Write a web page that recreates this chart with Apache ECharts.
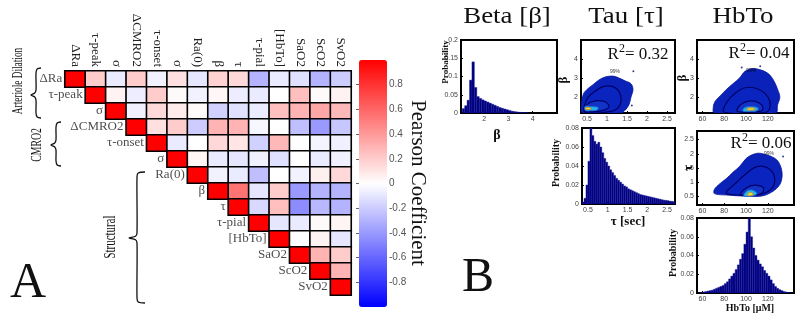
<!DOCTYPE html>
<html><head><meta charset="utf-8">
<script src="https://cdn.jsdelivr.net/npm/echarts@6/dist/echarts.min.js"></script>
<style>html,body{margin:0;padding:0;background:#fff}#c{width:800px;height:318px}</style>
</head><body><div id="c"></div>
<script>
// ---------- Panel A data ----------
const varNames = ['ΔRa','τ-peak','σ','ΔCMRO2','τ-onset','σ','Ra(0)','β','τ','τ-pial','[HbTo]','SaO2','ScO2','SvO2'];
// upper triangle (row r, columns r..13)
const corrUpper = [
 [1, 0.2, -0.08, 0.2, -0.05, 0.12, -0.1, 0.18, 0.15, -0.3, -0.08, -0.12, -0.3, -0.2],
 [1, 0.05, -0.07, 0.2, 0.02, -0.05, 0.03, -0.07, -0.08, 0.0, 0.25, 0.02, 0.05],
 [1, -0.06, 0.15, 0.08, 0.02, -0.18, -0.12, -0.08, 0.25, 0.3, 0.35, 0.28],
 [1, 0.12, 0.2, -0.2, 0.3, 0.3, -0.03, 0.0, -0.25, -0.4, -0.22],
 [1, -0.08, 0.0, 0.15, 0.1, -0.18, 0.28, 0.0, -0.04, -0.06],
 [1, 0.04, -0.08, -0.1, -0.06, -0.12, 0.0, -0.08, -0.06],
 [1, -0.05, -0.08, -0.25, 0.0, -0.05, 0.06, 0.15],
 [1, 0.55, -0.1, 0.2, -0.4, -0.3, -0.3],
 [1, -0.15, 0.25, -0.45, -0.28, -0.3],
 [1, -0.1, -0.08, 0.02, 0.04],
 [1, 0.0, 0.05, -0.1],
 [1, 0.3, 0.2],
 [1, 0.3],
 [1]
];
const colorbarTicks = [-0.8,-0.6,-0.4,-0.2,0,0.2,0.4,0.6,0.8];

// ---------- Panel B data ----------
const betaBins = [1.1,1.2,1.3,1.4,1.5,1.6,1.7,1.8,1.9,2.0,2.1,2.2,2.3,2.4,2.5,2.6,2.7,2.8,2.9,3.0,3.1,3.2,3.3,3.4,3.5,3.6,3.7];
const betaProb = [0.012,0.02,0.035,0.09,0.14,0.07,0.045,0.04,0.036,0.033,0.03,0.027,0.024,0.021,0.018,0.015,0.013,0.011,0.009,0.007,0.005,0.004,0.003,0.002,0.0015,0.001,0.0005];
const tauBins = [0.35,0.40,0.45,0.50,0.55,0.60,0.65,0.70,0.75,0.80,0.85,0.90,0.95,1.00,1.05,1.10,1.15,1.20,1.25,1.30,1.35,1.40,1.45,1.50,1.55,1.60,1.65,1.70,1.75,1.80,1.85,1.90,1.95,2.00,2.05,2.10,2.15,2.20,2.25,2.30,2.35,2.40,2.45,2.50,2.55,2.60,2.65];
const tauProb = [0.002,0.006,0.02,0.045,0.08,0.072,0.066,0.063,0.065,0.06,0.054,0.048,0.044,0.04,0.036,0.033,0.03,0.027,0.025,0.023,0.021,0.019,0.018,0.016,0.015,0.014,0.013,0.012,0.011,0.01,0.0095,0.009,0.0085,0.008,0.0075,0.007,0.0065,0.006,0.0055,0.005,0.0045,0.004,0.0038,0.0035,0.003,0.0028,0.0025];
const hbtoBins = [58,60,62,64,66,68,70,72,74,76,78,80,82,84,86,88,90,92,94,96,98,100,102,104,106,108,110,112,114,116,118,120,122,124,126,128,130,132,134,136,138];
const hbtoProb = [0.0005,0.001,0.0015,0.002,0.0025,0.003,0.004,0.005,0.006,0.007,0.008,0.01,0.012,0.015,0.018,0.021,0.025,0.03,0.036,0.042,0.052,0.065,0.08,0.06,0.048,0.04,0.035,0.031,0.028,0.024,0.021,0.018,0.014,0.01,0.007,0.005,0.0035,0.0025,0.0015,0.001,0.0005];

// density contour outlines (x, y) for the scatter panels
const tauBetaOuter = [[0.4,1.15],[0.4,2.1],[0.5,2.4],[0.65,2.65],[0.8,2.9],[0.95,3.05],[1.15,3.1],[1.3,3.0],[1.45,2.85],[1.6,2.7],[1.65,2.4],[1.6,2.0],[1.55,1.6],[1.45,1.3],[1.35,1.15]];
const tauBetaMid = [[0.45,1.2],[0.5,1.9],[0.7,2.3],[0.9,2.55],[1.15,2.55],[1.3,2.3],[1.35,1.9],[1.3,1.5],[1.1,1.25]];
const tauBetaInner = [[0.45,1.25],[0.5,1.6],[0.7,1.8],[0.95,1.75],[1.05,1.5],[0.9,1.3],[0.6,1.22]];
const tauBetaCyan = [[0.45,1.3],[0.45,1.5],[0.6,1.5],[0.78,1.45],[0.75,1.32],[0.55,1.28]];
const tauBetaCore = [[0.47,1.35],[0.48,1.45],[0.58,1.44],[0.6,1.36]];
const hbBetaOuter = [[71,1.15],[70,1.5],[72,1.8],[77,2.1],[82,2.4],[88,2.7],[94,3.0],[99,3.35],[106,3.5],[112,3.45],[117,3.35],[122,3.15],[126,2.8],[129,2.4],[131,2.0],[129,1.6],[127,1.15]];
const hbBetaMid = [[80,1.2],[82,1.7],[90,2.2],[100,2.5],[112,2.4],[120,2.0],[122,1.5],[118,1.2]];
const hbBetaInner = [[92,1.25],[95,1.6],[105,1.8],[114,1.6],[115,1.3],[105,1.2]];
const hbBetaCyan = [[97,1.28],[99,1.45],[106,1.5],[111,1.42],[110,1.28],[103,1.24]];
const hbBetaCore = [[101,1.32],[102,1.42],[107,1.42],[108,1.33]];
const hbTauOuter = [[71,0.6],[71,0.75],[76,0.95],[82,1.13],[88,1.35],[94,1.55],[100,1.83],[106,1.97],[112,2.02],[120,1.95],[126,1.85],[130,1.7],[133,1.35],[132,1.0],[128,0.78],[122,0.62],[115,0.52],[104,0.5],[94,0.52],[82,0.55]];
const hbTauMid = [[82,0.62],[90,0.95],[100,1.3],[110,1.55],[120,1.5],[126,1.2],[124,0.8],[115,0.6],[100,0.55]];
const hbTauInner = [[95,0.57],[100,0.8],[108,0.9],[116,0.8],[114,0.6],[105,0.55]];
const hbTauCyan = [[98,0.52],[101,0.7],[106,0.72],[110,0.6],[106,0.52]];
const hbTauCore = [[101,0.54],[103,0.64],[106,0.62],[106,0.54]];
const label99 = [[1.2,3.32],[104.7,3.38],[121,2.0]];
const strayDots = [[[1.66,3.35],[1.62,1.55]],[[96,3.55],[113,3.62]],[[134,1.9]]];
const r2Values = ['0.32','0.04','0.06'];

// ---------- build option ----------
const serif = '"Liberation Serif","Times New Roman",serif';
const sans = '"Liberation Sans",Arial,sans-serif';
const heatData = [];
corrUpper.forEach((row, r) => row.forEach((v, j) => heatData.push([r + j, r, v])));

function bAxis(grid, min, max, extra) {
  return Object.assign({
    type: 'value', gridIndex: grid, min, max,
    axisLine: {show: false}, splitLine: {show: false},
    axisTick: {show: true, inside: true, length: 2, lineStyle: {color: '#000'}},
    axisLabel: {fontSize: 7, color: '#444', fontFamily: sans, margin: 3}
  }, extra || {});
}
function custVals(v) {
  return {axisLabel: {fontSize: 7, color: '#444', fontFamily: sans, margin: 3, customValues: v},
          axisTick: {show: true, inside: true, length: 2, lineStyle: {color: '#000'}, customValues: v}};
}
function histSeries(ax, bins, probs, w) {
  return {type: 'custom', xAxisIndex: ax, yAxisIndex: ax, clip: true, silent: true,
    data: bins.map((b, i) => [b, probs[i]]),
    renderItem: (params, api) => {
      const x0 = api.value(0), p = api.value(1);
      const a = api.coord([x0, p]), b = api.coord([x0 + w, 0]);
      return {type: 'rect', shape: {x: a[0], y: a[1], width: b[0] - a[0], height: b[1] - a[1]},
        style: {fill: '#00007f', stroke: '#1a1a9c', lineWidth: 0.4}};
    }};
}
function polySeries(ax, pts, fill, stroke, lw) {
  return {type: 'custom', xAxisIndex: ax, yAxisIndex: ax, clip: true, silent: true, data: pts,
    renderItem: (params, api) => {
      if (params.dataIndex !== 0) return null;
      const points = pts.map(p => api.coord(p));
      return {type: 'polygon', shape: {points, smooth: 0.35}, style: {fill, stroke, lineWidth: lw}};
    }};
}
function contourSet(ax, outer, mid, inner, cyan, core) {
  return [
    polySeries(ax, outer, '#0b22b8', '#08189a', 0.8),
    polySeries(ax, mid, '#0a24bf', '#000066', 1.2),
    polySeries(ax, inner, '#1133c6', '#000066', 1.2),
    polySeries(ax, cyan, '#27b5e6', '#1a6fd8', 0.8),
    polySeries(ax, core, '#d9e23c', '#e07a20', 0.8)
  ];
}
const series = [
  {type: 'heatmap', xAxisIndex: 0, yAxisIndex: 0, data: heatData, silent: true,
   itemStyle: {borderColor: '#000', borderWidth: 1.6}, emphasis: {disabled: true}},
  {type: 'scatter', xAxisIndex: 0, yAxisIndex: 0, silent: true, symbolSize: 0,
   data: varNames.map((n, i) => [i, i]),
   label: {show: true, position: 'left', distance: 13, formatter: p => varNames[p.dataIndex],
           fontFamily: serif, fontSize: 13, color: '#222'}},
  {type: 'scatter', xAxisIndex: 1, yAxisIndex: 1, data: [], silent: true},
  histSeries(2, betaBins, betaProb, 0.1),
  histSeries(5, tauBins, tauProb, 0.05),
  histSeries(7, hbtoBins, hbtoProb, 2),
  ...contourSet(3, tauBetaOuter, tauBetaMid, tauBetaInner, tauBetaCyan, tauBetaCore),
  ...contourSet(4, hbBetaOuter, hbBetaMid, hbBetaInner, hbBetaCyan, hbBetaCore),
  ...contourSet(6, hbTauOuter, hbTauMid, hbTauInner, hbTauCyan, hbTauCore)
];
[3, 4, 6].forEach((ax, k) => {
  series.push({type: 'scatter', xAxisIndex: ax, yAxisIndex: ax, silent: true, symbolSize: 2,
    itemStyle: {color: '#001080'}, data: strayDots[k]});
  series.push({type: 'scatter', xAxisIndex: ax, yAxisIndex: ax, silent: true, symbolSize: 0,
    data: [label99[k]], label: {show: true, position: 'inside', formatter: '99%', fontSize: 5, color: '#000', fontFamily: sans}});
});

const grids = [
  {left: 65, top: 71, width: 286, height: 224},
  {left: 359, top: 60, width: 28, height: 247},
  {left: 461, top: 40, width: 96, height: 73},
  {left: 581, top: 40, width: 94, height: 73},
  {left: 697, top: 40, width: 97, height: 73},
  {left: 582, top: 128, width: 93, height: 76},
  {left: 697, top: 131, width: 97, height: 74},
  {left: 697, top: 218, width: 97, height: 75}
].map((g, i) => Object.assign(g, i >= 2 ? {show: true, borderColor: '#000', borderWidth: 2, backgroundColor: '#fff'} : {show: false}));

const xAxes = [
  {type: 'category', gridIndex: 0, data: varNames, position: 'top',
   axisLine: {show: false}, axisTick: {show: false}, splitLine: {show: false},
   axisLabel: {rotate: 90, interval: 0, fontFamily: serif, fontSize: 13, color: '#222', margin: 4}},
  {type: 'value', gridIndex: 1, show: false, min: 0, max: 1},
  bAxis(2, 1.05, 5, custVals([2, 3, 4])),
  bAxis(3, 0.35, 2.7, custVals([0.5, 1, 1.5, 2, 2.5])),
  bAxis(4, 55, 144, custVals([60, 80, 100, 120])),
  bAxis(5, 0.35, 2.7, custVals([0.5, 1, 1.5, 2, 2.5])),
  bAxis(6, 55, 144, custVals([60, 80, 100, 120])),
  bAxis(7, 55, 144, custVals([60, 80, 100, 120]))
];
const yAxes = [
  {type: 'category', gridIndex: 0, data: varNames, inverse: true, show: false},
  {type: 'value', gridIndex: 1, position: 'right', min: -1, max: 1,
   axisLine: {show: false}, splitLine: {show: false},
   axisTick: {show: true, inside: true, length: 3, lineStyle: {color: '#666'}, customValues: colorbarTicks},
   axisLabel: {fontSize: 10, color: '#555', fontFamily: sans, margin: 2, customValues: colorbarTicks}},
  bAxis(2, 0, 0.2, {interval: 0.05}),
  bAxis(3, 1.16, 5, custVals([2, 3, 4])),
  bAxis(4, 1.16, 5, custVals([2, 3, 4])),
  bAxis(5, 0, 0.08, {interval: 0.02}),
  bAxis(6, 0.2, 2.8, custVals([0.5, 1, 1.5, 2, 2.5])),
  bAxis(7, 0, 0.08, {interval: 0.02})
];

function txt(t, x, y, font, opts) {
  return Object.assign({type: 'text', x, y, silent: true, z: 100,
    style: {text: t, font, fill: '#111', textAlign: 'center', textVerticalAlign: 'middle'}}, opts || {});
}
function r2(v, x, y) {
  return {type: 'text', x, y, silent: true, z: 100,
    style: {text: '{r|R}{s|2}{r|= ' + v + '}', textAlign: 'center', textVerticalAlign: 'middle',
      rich: {r: {fontFamily: serif, fontSize: 17, fill: '#111', color: '#111', verticalAlign: 'bottom'},
             s: {fontFamily: serif, fontSize: 12, fill: '#111', color: '#111', verticalAlign: 'bottom', padding: [0, 0, 8, 0]}}}};
}
// curly brace: xEnd = open ends, xMid = spine, xTip = point, from yTop to yBot, tip at yTip
function brace(xEnd, xMid, xTip, yTop, yTip, yBot) {
  const c = 5;
  const pts = [[xEnd, yTop], [xMid + 1.2, yTop + 1], [xMid, yTop + c], [xMid, yTip - c], [xMid - 1.5, yTip - 1.8], [xTip, yTip],
               [xMid - 1.5, yTip + 1.8], [xMid, yTip + c], [xMid, yBot - c], [xMid + 1.2, yBot - 1], [xEnd, yBot]];
  return {type: 'polyline', silent: true, shape: {points: pts, smooth: 0.3}, style: {stroke: '#111', fill: null, lineWidth: 1.3}};
}
const R90 = Math.PI / 2;
const graphics = [
  brace(41, 36, 31, 68, 95, 118),
  brace(61, 56, 51, 122, 145, 166),
  brace(145, 137, 129, 172, 238, 303),
  txt('Arteriole Dilation', 18, 81, '15px ' + serif, {rotation: R90, scaleX: 0.62}),
  txt('CMRO2', 37, 145, '15px ' + serif, {rotation: R90, scaleX: 0.65}),
  txt('Structural', 111, 237, '16px ' + serif, {rotation: R90, scaleX: 0.68}),
  txt('A', 28, 284, '50px ' + serif),
  txt('B', 478, 278, '48px ' + serif),
  txt('Pearson Coefficient', 418, 183, '21px ' + serif, {rotation: -R90}),
  txt('Beta [β]', 507, 17, '24px ' + serif, {scaleX: 1.12}),
  txt('Tau [τ]', 626, 17, '24px ' + serif, {scaleX: 1.12}),
  txt('HbTo', 743, 17, '24px ' + serif, {scaleX: 1.12}),
  r2(r2Values[0], 638, 53),
  r2(r2Values[1], 759, 52),
  r2(r2Values[2], 761, 142),
  txt('Probability', 446, 62, 'bold 9px ' + serif, {rotation: R90}),
  txt('β', 497, 135, 'bold 14px ' + serif),
  txt('β', 564, 80, 'bold 13px ' + serif, {rotation: R90}),
  txt('Probability', 556, 163, 'bold 10px ' + serif, {rotation: R90}),
  txt('τ [sec]', 628, 222, 'bold 13px ' + serif),
  txt('β', 683, 78, 'bold 13px ' + serif, {rotation: R90}),
  txt('τ', 689, 168, 'bold 13px ' + serif, {rotation: R90}),
  txt('Probability', 673, 253, 'bold 10px ' + serif, {rotation: R90}),
  txt('HbTo [μM]', 750, 308, 'bold 10px ' + serif)
];

const chart = echarts.init(document.getElementById('c'), null, {renderer: 'canvas', width: 800, height: 318});
chart.setOption({
  animation: false,
  backgroundColor: '#fff',
  grid: grids, xAxis: xAxes, yAxis: yAxes, series,
  visualMap: {type: 'continuous', seriesIndex: 0, min: -1, max: 1, calculable: false, hoverLink: false,
    inRange: {color: ['#0000ff', '#ffffff', '#ff0000']},
    left: 359, top: 60, itemWidth: 28, itemHeight: 247, padding: 0},
  graphic: graphics
});
</script></body></html>
